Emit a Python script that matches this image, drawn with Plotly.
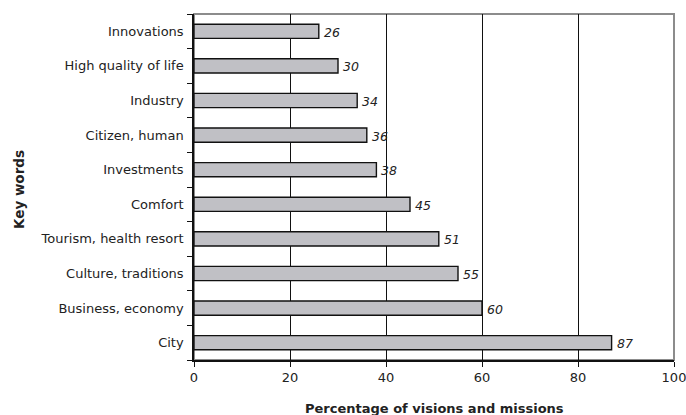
import plotly.graph_objects as go

categories = ["City", "Business, economy", "Culture, traditions", "Tourism, health resort",
              "Comfort", "Investments", "Citizen, human", "Industry",
              "High quality of life", "Innovations"]
values = [87, 60, 55, 51, 45, 38, 36, 34, 30, 26]
x_ticks = [0, 20, 40, 60, 80, 100]

FONT = "DejaVu Sans, Liberation Sans, Arial, sans-serif"
L, R, T, B = 194, 12, 14, 55
W, H = 686, 415
PW = W - L - R
PH = H - T - B

fig = go.Figure()
fig.add_trace(go.Bar(
    y=categories, x=values, orientation="h",
    marker=dict(color="#c0c0c5", line=dict(color="#111111", width=1.4)),
    width=0.41, showlegend=False, hoverinfo="skip",
))

value_labels = [dict(x=v, y=c, xref="x", yref="y", text=str(v), showarrow=False,
                     xanchor="left", yanchor="middle", xshift=3, yshift=-1,
                     font=dict(size=12.5, color="#222222", style="italic"))
                for c, v in zip(categories, values)]

fig.update_layout(
    width=W, height=H,
    margin=dict(l=L, r=R, t=T, b=B, autoexpand=False),
    paper_bgcolor="white", plot_bgcolor="white",
    font=dict(family=FONT, size=13, color="#222222"),
    shapes=[dict(type="rect", xref="paper", yref="paper", x0=0, x1=1, y0=0, y1=1,
                 line=dict(color="#8c8c8c", width=2), layer="below")],
    xaxis=dict(range=[0, 100], tickvals=x_ticks, showgrid=True, gridcolor="#111111",
               gridwidth=1.3, showline=True, linecolor="#111111", linewidth=1.5,
               ticks="outside", ticklen=5, tickcolor="#111111", zeroline=False,
               tickfont=dict(size=13), automargin=False, ticklabeloverflow="allow"),
    yaxis=dict(showline=True, linecolor="#111111", linewidth=1.5, ticks="outside",
               tickson="boundaries", ticklen=5, tickcolor="#111111", showgrid=False,
               tickfont=dict(size=13), ticklabelstandoff=6, automargin=False),
    annotations=value_labels + [
        dict(text="<b>Percentage of visions and missions</b>", xref="paper", yref="paper",
             x=0.5, y=0, yshift=-48, xanchor="center", yanchor="middle",
             showarrow=False, font=dict(size=13)),
        dict(text="<b>Key words</b>", xref="paper", yref="paper",
             x=(19 - L) / PW, y=0.5, yshift=-3, xanchor="center", yanchor="middle",
             textangle=-90, showarrow=False, font=dict(size=13.5)),
    ],
    bargap=0.59,
)

fig.write_html("out.html", config={"displayModeBar": False},
               post_script="document.body.style.margin='0';")
